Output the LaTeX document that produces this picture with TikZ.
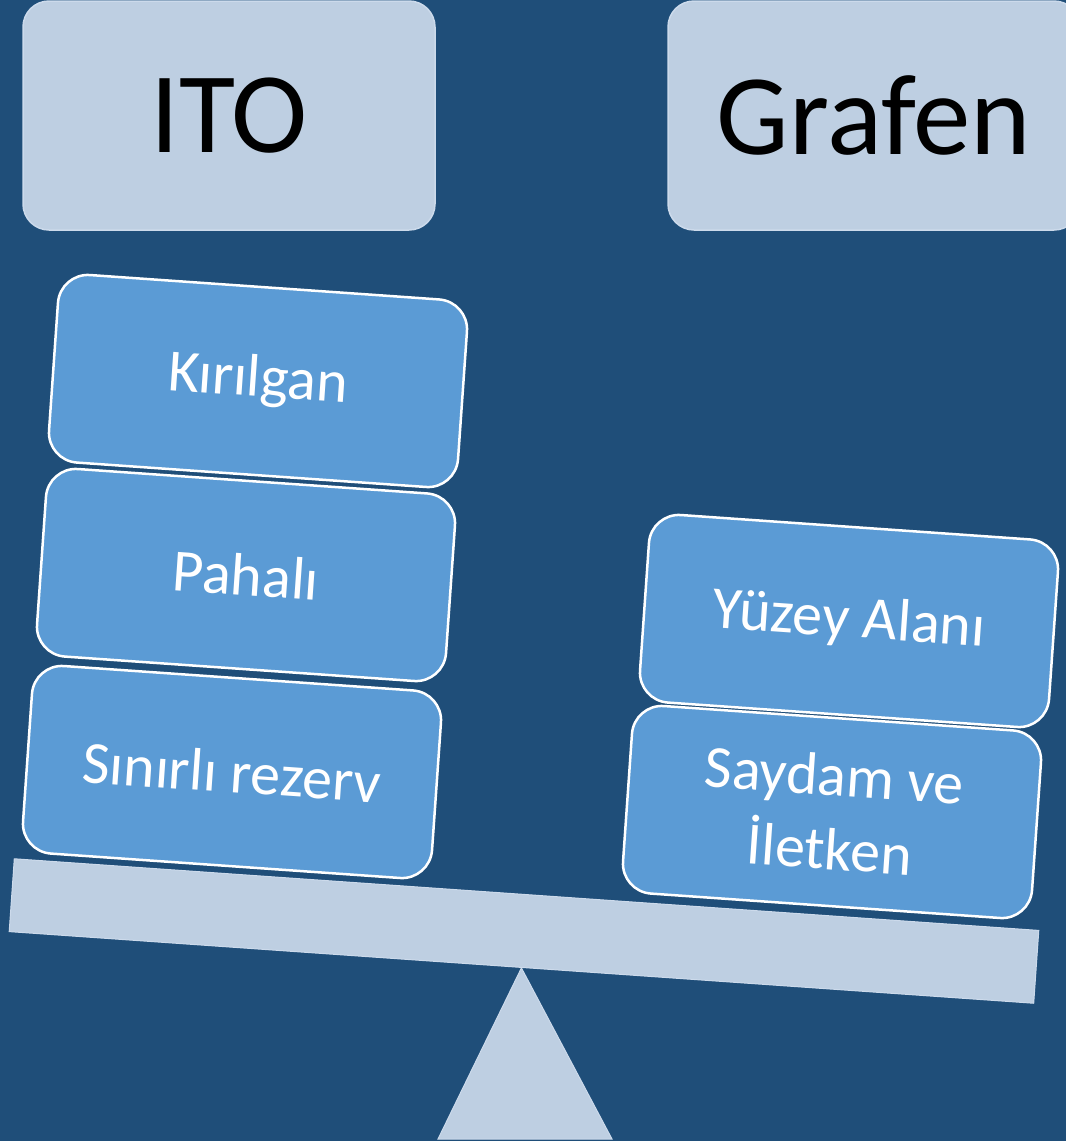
\documentclass[tikz,border=0pt]{standalone}
\usepackage{fontspec}
\setmainfont{Carlito}
\usetikzlibrary{positioning}

\definecolor{bgblue}{HTML}{1F4E79}
\definecolor{palebox}{HTML}{BECFE2}
\definecolor{boxedge}{HTML}{CCDAEB}
\definecolor{itemblue}{HTML}{5B9BD5}

\begin{document}
\begin{tikzpicture}[
    x=1pt, y=-1pt,
    topbox/.style={draw=boxedge, fill=palebox, rounded corners=26pt, line width=1.5pt,
      minimum width=412pt, minimum height=229pt, inner sep=0pt,
      font=\fontsize{115}{134}\selectfont},
    itembox/.style={draw=white, fill=itemblue, rounded corners=30pt, line width=2.5pt,
      minimum width=410pt, minimum height=188pt, inner sep=0pt, rotate=-4,
      text=white, align=center, font=\fontsize{60}{74}\selectfont},
    every node/.style={anchor=center}
  ]
  \fill[bgblue] (0,0) rectangle (1066,1141);
  \useasboundingbox (0,0) rectangle (1066,1141);

  % Headers
  \node[topbox] (ito)    at (229,115.5) {ITO};
  \node[topbox] (grafen) at (874,115.5) {Grafen};

  % Beam and pivot
  \node[draw=boxedge, fill=palebox, line width=1pt, rotate=-4, inner sep=0pt,
        minimum width=1027pt, minimum height=73pt] (beam) at (524,931) {};
  \filldraw[draw=boxedge, fill=palebox, line width=1pt]
    (beam.south) -- (612,1139) -- (438,1139) -- cycle;

  % ITO side
  \node[itembox] (kirilgan) at (258,381) {Kırılgan};
  \node[itembox] (pahali)   at (246,575) {Pahalı};
  \node[itembox] (rezerv)   at (232,772) {Sınırlı rezerv};

  % Grafen side
  \node[itembox] (yuzey)   at (849,621) {Yüzey Alanı};
  \node[itembox] (saydam)  at (832,812) {Saydam ve\\İletken};
\end{tikzpicture}
\end{document}
